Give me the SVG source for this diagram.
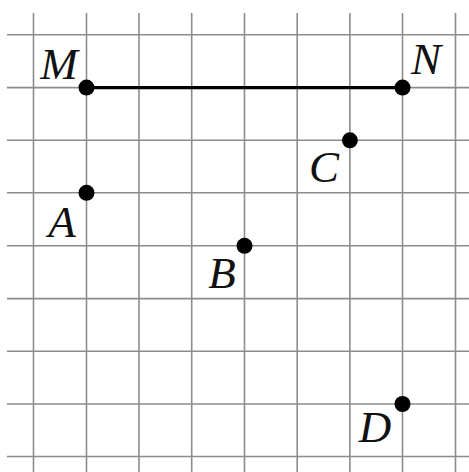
<svg xmlns="http://www.w3.org/2000/svg" width="469" height="472" viewBox="0 0 469 472">
<style>
.grid line{stroke:#8c8c8c;stroke-width:1.6}
.pt{fill:#000}
.lbl{font-family:"Liberation Serif","DejaVu Serif",serif;font-style:italic;font-size:45px;fill:#111;text-anchor:middle}
</style>
<rect width="469" height="472" fill="#fff"/>
<g class="grid" id="grid">
<line x1="33.5" y1="13" x2="33.5" y2="472"/>
<line x1="86.5" y1="13" x2="86.5" y2="472"/>
<line x1="139" y1="13" x2="139" y2="472"/>
<line x1="191.7" y1="13" x2="191.7" y2="472"/>
<line x1="244.5" y1="13" x2="244.5" y2="472"/>
<line x1="297.2" y1="13" x2="297.2" y2="472"/>
<line x1="349.9" y1="13" x2="349.9" y2="472"/>
<line x1="402.5" y1="13" x2="402.5" y2="472"/>
<line x1="455.5" y1="13" x2="455.5" y2="472"/>
<line x1="7" y1="34.8" x2="469" y2="34.8"/>
<line x1="7" y1="87.6" x2="469" y2="87.6"/>
<line x1="7" y1="140.3" x2="469" y2="140.3"/>
<line x1="7" y1="192.8" x2="469" y2="192.8"/>
<line x1="7" y1="245.8" x2="469" y2="245.8"/>
<line x1="7" y1="298.6" x2="469" y2="298.6"/>
<line x1="7" y1="351.2" x2="469" y2="351.2"/>
<line x1="7" y1="404" x2="469" y2="404"/>
<line x1="7" y1="456.5" x2="469" y2="456.5"/>
</g>
<g id="connectors">
<line x1="86.5" y1="87.6" x2="402.5" y2="87.6" stroke="#000" stroke-width="3.2"/>
</g>
<g id="M"><circle class="pt" cx="86.5" cy="87.6" r="8"/><text class="lbl" x="59" y="79">M</text></g>
<g id="N"><circle class="pt" cx="402.5" cy="87.6" r="8"/><text class="lbl" x="426" y="74">N</text></g>
<g id="C"><circle class="pt" cx="349.9" cy="140.3" r="8"/><text class="lbl" x="324" y="182">C</text></g>
<g id="A"><circle class="pt" cx="86.5" cy="192.8" r="8"/><text class="lbl" x="62" y="237">A</text></g>
<g id="B"><circle class="pt" cx="244.5" cy="245.8" r="8"/><text class="lbl" x="222" y="288">B</text></g>
<g id="D"><circle class="pt" cx="402.5" cy="404" r="8"/><text class="lbl" x="375" y="442">D</text></g>
</svg>
